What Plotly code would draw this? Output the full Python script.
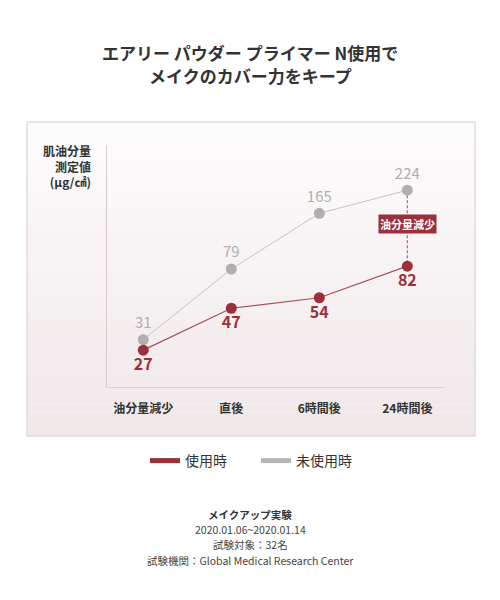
import plotly.graph_objects as go

# データ
categories = ["油分量減少", "直後", "6時間後", "24時間後"]
used = [27, 47, 54, 82]          # 使用時
unused = [31, 79, 165, 224]      # 未使用時
series_names = ["使用時", "未使用時"]

RED = "#9b2f3b"
GRAY = "#b2adae"
FONT = "Noto Sans CJK JP"

# ページの余白 (body margin) 分をずらす
OFF = 8
W, H = 500, 600
# プロット領域 (画像上の px)
PL, PR, PT, PB = 107 - OFF, 445 - OFF, 145 - OFF, 387 - OFF


def px_x(x):
    return (x - OFF - PL) / (PR - PL)


def px_y(y):
    return (PB - (y - OFF)) / (PB - PT)


fig = go.Figure()

# 未使用時
fig.add_trace(go.Scatter(
    x=categories, y=unused, mode="lines+markers+text",
    line=dict(color="#c9c3c4", width=1),
    marker=dict(color=GRAY, size=11),
    text=[str(v) for v in unused], textposition="top center",
    textfont=dict(family=FONT, size=15, color=GRAY),
    showlegend=False, cliponaxis=False,
))

# 使用時
fig.add_trace(go.Scatter(
    x=categories, y=used, mode="lines+markers+text",
    line=dict(color="#a3505a", width=1.2),
    marker=dict(color=RED, size=11),
    text=["<b>%d</b>" % v for v in used], textposition="bottom center",
    textfont=dict(family=FONT, size=16, color=RED),
    showlegend=False, cliponaxis=False,
))

# 凡例用
fig.add_trace(go.Scatter(x=[None], y=[None], mode="lines", name=series_names[0],
                         line=dict(color=RED, width=5)))
fig.add_trace(go.Scatter(x=[None], y=[None], mode="lines", name=series_names[1],
                         line=dict(color="#b9b6b7", width=5)))

# 背景パネル (グラデーション)
shapes = []
n = 40
top_c = (253, 252, 252)
bot_c = (240, 231, 233)
y0p, y1p = px_y(436), px_y(122)
for i in range(n):
    t = i / (n - 1)
    c = tuple(round(top_c[k] + (bot_c[k] - top_c[k]) * t) for k in range(3))
    shapes.append(dict(
        type="rect", xref="paper", yref="paper", layer="below",
        x0=px_x(27), x1=px_x(475),
        y0=y1p - (y1p - y0p) * (i + 1) / n, y1=y1p - (y1p - y0p) * i / n,
        fillcolor="rgb(%d,%d,%d)" % c, line=dict(width=0),
    ))
shapes.append(dict(type="rect", xref="paper", yref="paper", layer="below",
                   x0=px_x(27), x1=px_x(475), y0=y0p, y1=y1p,
                   line=dict(color="#e2dadb", width=1.5)))
# 点線
shapes.append(dict(type="line", xref="x", yref="y", layer="below",
                   x0=categories[3], x1=categories[3], y0=unused[3], y1=used[3],
                   line=dict(color="#b06871", width=1.2, dash="3px,2px")))
fig.update_layout(shapes=shapes)

annotations = [
    dict(text="<b>エアリー パウダー プライマー N使用で</b>",
         x=px_x(250), y=px_y(52), font=dict(size=17, color="#333333")),
    dict(text="<b>メイクのカバー力をキープ</b>",
         x=px_x(250), y=px_y(75), font=dict(size=17, color="#333333")),
    dict(text="<b>肌油分量<br>測定値<br>(μg/㎠)</b>", x=px_x(93), y=px_y(140),
         xanchor="right", yanchor="top", align="right",
         font=dict(size=12, color="#333333")),
    dict(text="<b>油分量減少</b>", x=categories[3], xref="x", y=px_y(224),
         bgcolor=RED, borderpad=1, font=dict(size=11, color="white")),
    dict(text="", x=categories[3], xref="x", y=used[3], yref="y",
         ax=0, ay=-10, showarrow=True, arrowhead=2, arrowsize=1.6,
         arrowwidth=1.2, arrowcolor=RED, standoff=10, font=dict()),
    dict(text="<b>メイクアップ実験</b>", x=px_x(250), y=px_y(514),
         font=dict(size=10.5, color="#333333")),
    dict(text="2020.01.06~2020.01.14", x=px_x(250), y=px_y(529),
         font=dict(size=10.5, color="#444444")),
    dict(text="試験対象：32名", x=px_x(250), y=px_y(544),
         font=dict(size=10.5, color="#444444")),
    dict(text="試験機関：Global Medical Research Center", x=px_x(250), y=px_y(560),
         font=dict(size=10.5, color="#444444")),
]
for a in annotations:
    a.setdefault("xref", "paper")
    a.setdefault("yref", "paper")
    a.setdefault("showarrow", False)
    a.setdefault("xanchor", "center")
    a.setdefault("yanchor", "middle")
    a["font"]["family"] = FONT
fig.update_layout(annotations=annotations)

fig.update_layout(
    width=W, height=H,
    margin=dict(l=PL, r=W - PR, t=PT, b=H - PB),
    paper_bgcolor="white", plot_bgcolor="rgba(0,0,0,0)",
    font=dict(family=FONT, color="#333333"),
    xaxis=dict(type="category", range=[-0.4125, 3.428], showgrid=False,
               zeroline=False, showline=True, linecolor="#ddd2d4", linewidth=1,
               ticks="outside", ticklen=11, tickcolor="rgba(0,0,0,0)",
               tickfont=dict(family=FONT, size=12, color="#333333"),
               tickprefix="<b>", ticksuffix="</b>"),
    yaxis=dict(type="log", range=[1.2196, 2.610], showgrid=False,
               zeroline=False, showline=True, linecolor="#dcc8cb", linewidth=1,
               showticklabels=False, ticks=""),
    legend=dict(orientation="h", x=px_x(256), xanchor="center",
                y=px_y(461), yanchor="middle",
                font=dict(family=FONT, size=14, color="#333333"),
                bgcolor="rgba(0,0,0,0)", entrywidth=66),
)

fig.write_html("out.html")
